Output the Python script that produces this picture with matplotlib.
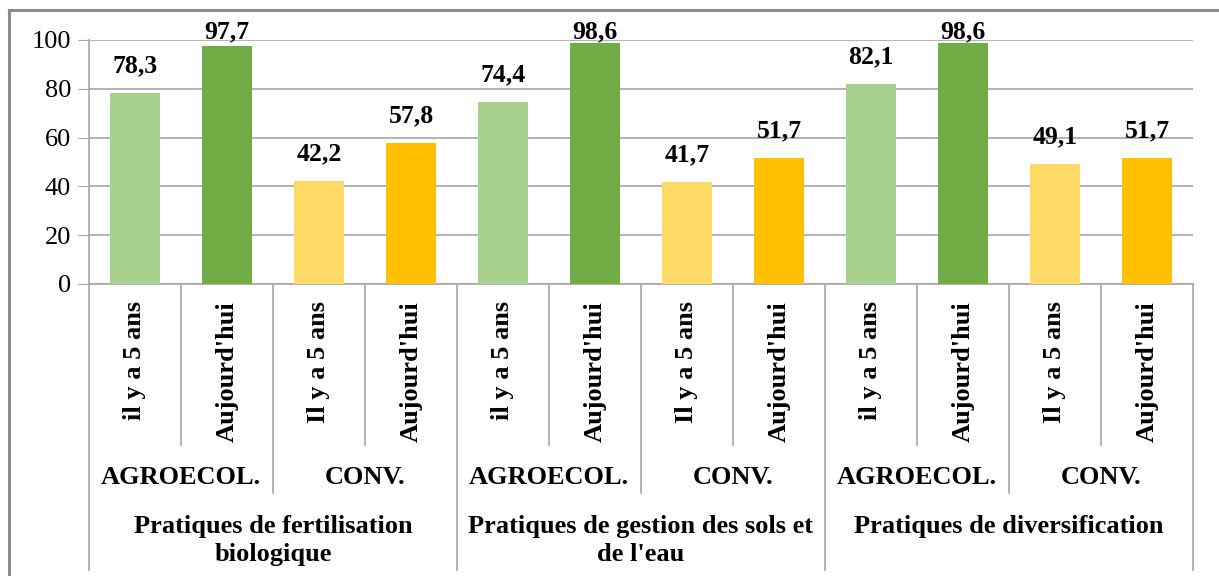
import numpy as np
import matplotlib
matplotlib.use("Agg")
import matplotlib.pyplot as plt
from matplotlib.lines import Line2D
from matplotlib.transforms import blended_transform_factory

# Data
practices = ["Pratiques de fertilisation\nbiologique",
             "Pratiques de gestion des sols et\nde l'eau",
             "Pratiques de diversification"]
farm_types = ["AGROECOL.", "CONV."]
periods = [["il y a 5 ans", "Aujourd'hui"], ["Il y a 5 ans", "Aujourd'hui"]]
values = [78.3, 97.7, 42.2, 57.8,
          74.4, 98.6, 41.7, 51.7,
          82.1, 98.6, 49.1, 51.7]
bar_colors = ["#A9D18E", "#70AD47", "#FFD966", "#FFC000"] * 3

W, H = 1219, 576
plt.rcParams["font.family"] = ["Liberation Serif", "DejaVu Serif"]
fig = plt.figure(figsize=(W / 100, H / 100), dpi=100)
ax = fig.add_axes([89 / W, 1 - 284 / H, (1193 - 89) / W, (284 - 40) / H])

x = np.arange(len(values))
ax.bar(x, values, width=0.55, color=bar_colors, zorder=3)
ax.set_xlim(-0.5, len(values) - 0.5)
ax.set_ylim(0, 100)
ax.set_yticks(range(0, 101, 20))
ax.yaxis.grid(True, color="#A6A6A6", lw=1.2)
ax.set_axisbelow(True)
ax.set_xticks([])
ax.tick_params(axis="y", labelsize=19, length=8, color="#A6A6A6", pad=5)
for s in ["top", "right"]:
    ax.spines[s].set_visible(False)
for s in ["left", "bottom"]:
    ax.spines[s].set_color("#A6A6A6")
    ax.spines[s].set_linewidth(1.2)

# value labels, kept inside the top of the plot area
for xi, v in zip(x, values):
    ax.text(xi, min(v + 11.2, 103.5), f"{v:.1f}".replace(".", ","),
            ha="center", va="center", fontsize=18.5, fontweight="bold")

# multi-level category axis below the bars
tr = blended_transform_factory(ax.transData, fig.transFigure)
fy = lambda px: 1 - px / H
line_kw = dict(color="#A6A6A6", lw=1.2, transform=tr, clip_on=False)

for i in range(len(values)):
    ax.add_line(Line2D([i - 0.5, i - 0.5],
                       [fy(284), fy(570 if i % 4 == 0 else 493 if i % 2 == 0 else 445)],
                       **line_kw))
ax.add_line(Line2D([len(values) - 0.5] * 2, [fy(284), fy(570)], **line_kw))

for i in range(len(values)):
    g = (i // 2) % 2
    ax.text(i, fy(301), periods[g][i % 2], rotation=90, ha="center", va="top",
            fontsize=19, fontweight="bold", transform=tr)
for j in range(len(values) // 2):
    ax.text(2 * j + 0.5, fy(477), farm_types[j % 2], ha="center", va="center",
            fontsize=19, fontweight="bold", transform=tr)
for k, name in enumerate(practices):
    ax.text(4 * k + 1.5, fy(515), name, ha="center", va="top",
            fontsize=19, fontweight="bold", transform=tr, linespacing=1.3)

# chart frame
border_kw = dict(color="#8C8C8C", lw=2.2, transform=fig.transFigure)
fig.add_artist(Line2D([9 / W, 1], [fy(10), fy(10)], **border_kw))
fig.add_artist(Line2D([9 / W, 9 / W], [fy(10), 0], **border_kw))

fig.savefig("out.png", dpi=100)
